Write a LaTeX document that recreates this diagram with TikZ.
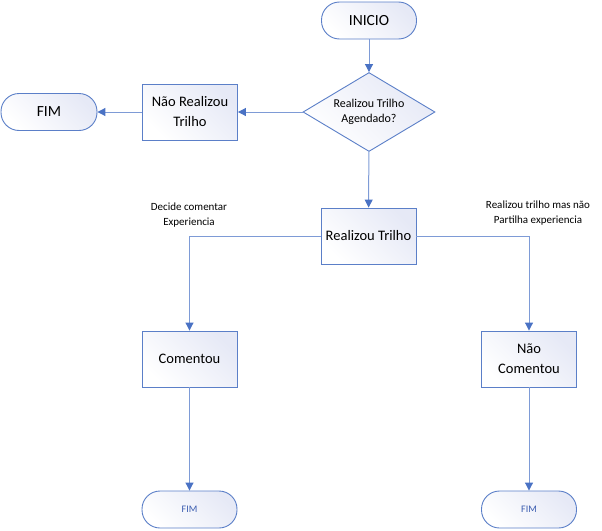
\documentclass[tikz,border=0pt]{standalone}
\usepackage{fontspec}
\setmainfont{Carlito}
\usetikzlibrary{arrows.meta,shapes.geometric}
\definecolor{bordc}{HTML}{5B7FC8}
\definecolor{linec}{HTML}{7E9BD6}
\definecolor{tipc}{HTML}{4A72C4}
\definecolor{fillc}{HTML}{E6E9F6}
\definecolor{fimc}{HTML}{3A5CB0}
\begin{document}
\begin{tikzpicture}[x=1pt,y=-1pt,
  base/.style={draw=bordc,line width=0.9pt,top color=white,bottom color=fillc,shading angle=135,align=center,inner sep=1pt},
  term/.style={base,minimum width=95pt,minimum height=37pt,rounded corners=18pt},
  proc/.style={base,rectangle,minimum width=95pt,minimum height=56pt},
  dec/.style={base,diamond,aspect=1.67,minimum width=132pt,minimum height=79pt,inner sep=0pt},
  conn/.style={draw=linec,line width=1pt,-{Triangle[length=8pt,width=8pt,color=tipc]}},
  lbl/.style={align=center,font=\fontsize{11}{14.5}\selectfont}]
\useasboundingbox (0,0) rectangle (602,530);
\node[term,font=\fontsize{15.5}{18}\selectfont] (ini) at (369,20.5) {INICIO};
\node[dec,font=\fontsize{12}{14.5}\selectfont] (d) at (369,112) {Realizou Trilho\\Agendado?};
\node[proc,font=\fontsize{14.5}{20}\selectfont] (nr) at (190,112) {Não Realizou\\Trilho};
\node[term,minimum width=96pt,font=\fontsize{15.5}{18}\selectfont] (fim1) at (49,112) {FIM};
\node[proc,font=\fontsize{14.5}{20}\selectfont] (rt) at (368.5,236) {Realizou Trilho};
\node[proc,font=\fontsize{14.5}{20}\selectfont] (com) at (189.5,359) {Comentou};
\node[proc,font=\fontsize{14.5}{20}\selectfont] (ncom) at (529,359) {Não\\Comentou};
\node[term,text=fimc,font=\fontsize{10}{12}\selectfont] (fim2) at (189.5,509.5) {FIM};
\node[term,text=fimc,font=\fontsize{10}{12}\selectfont] (fim3) at (529,509.5) {FIM};
\node[lbl] (l1) at (189,215) {Decide comentar\\Experiencia};
\node[lbl] (l2) at (538,213) {Realizou trilho mas não\\Partilha experiencia};
\coordinate (c1) at (189.5,236);
\coordinate (c2) at (529,236);
\draw[conn] (ini) -- (d);
\draw[conn] (d) -- (nr);
\draw[conn] (nr) -- (fim1);
\draw[conn] (d) -- (rt);
\draw[conn] (rt.west) -- (c1) -- (com.north);
\draw[conn] (rt.east) -- (c2) -- (ncom.north);
\draw[conn] (com) -- (fim2);
\draw[conn] (ncom) -- (fim3);
\end{tikzpicture}
\end{document}
